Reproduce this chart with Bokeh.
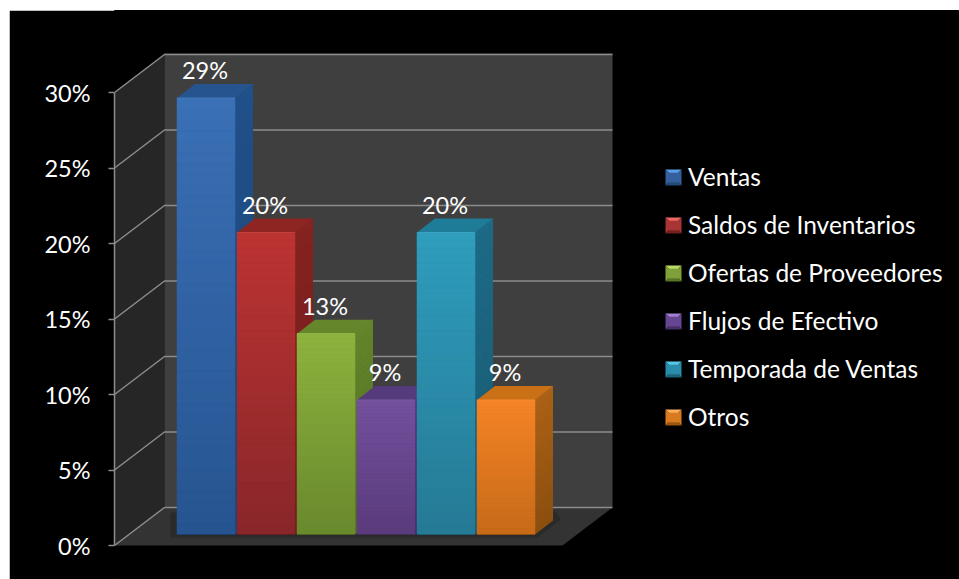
from bokeh.plotting import figure
from bokeh.models import (ColumnDataSource, Range1d, FixedTicker, PrintfTickFormatter,
                          Legend, LegendItem)
from bokeh.embed import file_html
from bokeh.resources import INLINE

categories = ["Ventas", "Saldos de Inventarios", "Ofertas de Proveedores",
              "Flujos de Efectivo", "Temporada de Ventas", "Otros"]
values = [28.9, 20.0, 13.3, 8.9, 20.0, 8.9]
ticks = [0, 5, 10, 15, 20, 25, 30]

# colours: front top, front bottom, side top, side bottom, cap, swatch top, swatch mid, swatch bottom
palette = [
    ("#3a70b6", "#265490", "#20508a", "#1c4474", "#25548f", "#5a9de8", "#34619e", "#264a78"),
    ("#bc3432", "#88262a", "#86221f", "#6e1c1a", "#8e2522", "#ee6663", "#a83533", "#74201e"),
    ("#8db33e", "#69882d", "#64852a", "#526c22", "#66862b", "#b7dc66", "#7f9f38", "#5a7426"),
    ("#74509d", "#5a3b7c", "#50377a", "#432e66", "#563b7c", "#a27fd0", "#664592", "#463068"),
    ("#2f9dbd", "#257a95", "#1d6a86", "#185a72", "#1f7c99", "#55c6e6", "#2a8cab", "#1c6278"),
    ("#f58426", "#c66a19", "#ad6215", "#8c4f0f", "#ca7016", "#ffae5e", "#d87a20", "#9c5612"),
]

PX_PER_UNIT = 15.1
PITCH = 60.0
W, H = 950, 569
LEFT, TOP = 9, 10


def X(px):
    return (px - 205.5) / PITCH


def Y(py):
    return (545 - py) / PX_PER_UNIT


p = figure(width=W, height=H, output_backend="svg", toolbar_location=None,
           x_range=Range1d(X(114), X(LEFT + W)), y_range=Range1d(Y(TOP + H), Y(TOP)),
           min_border_left=114 - LEFT, min_border_right=0, min_border_top=0, min_border_bottom=0,
           outline_line_color="#000000", outline_line_width=1,
           background_fill_color="#000000", border_fill_color="#000000",
           margin=(TOP, 0, 0, LEFT))
p.xaxis.visible = False
p.xgrid.visible = False
p.ygrid.visible = False

# walls
GRID = "#8c8c8c"
FONT = "Lato"
FS = "23.5px"
p.patch([X(114), X(164), X(164), X(114)], [Y(545), Y(507), Y(53), Y(92)],
        fill_color="#262626", line_color=None)
p.patch([X(164), X(612), X(612), X(164)], [Y(507), Y(507), Y(53), Y(53)],
        fill_color="#3f3f3f", line_color=None)
p.patch([X(114), X(562), X(612), X(164)], [Y(545), Y(545), Y(507), Y(507)],
        fill_color="#333333", line_color=None)
p.patch([X(170), X(537), X(560), X(556), X(170)], [Y(537), Y(537), Y(519), Y(512), Y(512)],
        fill_color="#2a2a2a", line_color=None)

back = Y(507)
p.multi_line([[X(114), X(164), X(612)] for t in ticks],
             [[t, t + back, t + back] for t in ticks],
             line_color=GRID, line_width=1.5)

BASE = Y(534)
DX, DY = 18 / PITCH, 14 / PX_PER_UNIT
HALF = 29 / PITCH
N = 40


def mix(a, b, t):
    ca = [int(a[i:i + 2], 16) for i in (1, 3, 5)]
    cb = [int(b[i:i + 2], 16) for i in (1, 3, 5)]
    return "#%02x%02x%02x" % tuple(round(u + (v - u) * t) for u, v in zip(ca, cb))


fronts = []
for i, v in enumerate(values):
    c = palette[i]
    top = v + BASE
    l, r = i - HALF, i + HALF
    # side face (gradient)
    for k in range(N):
        y0 = BASE + v * k / N
        y1 = BASE + v * (k + 1) / N + 0.03
        col = mix(c[3], c[2], (k + 0.5) / N)
        p.patch([r, r + DX, r + DX, r], [y0, y0 + DY, y1 + DY, y1], fill_color=col, line_color=None)
    # cap
    p.patch([l, r, r + DX, l + DX], [top, top, top + DY, top + DY], fill_color=c[4], line_color=None)
    # front face
    fr = p.vbar(x=[i], top=[top], bottom=[BASE], width=2 * HALF, fill_color=c[6], line_color=None)
    fronts.append(fr)
    tops = [BASE + v * (k + 1) / N for k in range(N)]
    bots = [BASE + v * k / N for k in range(N)]
    cols = [mix(c[1], c[0], (k + 0.5) / N) for k in range(N)]
    p.quad(left=[l] * N, right=[r] * N, top=tops, bottom=bots, fill_color=cols, line_color=cols, line_width=0.5)
    p.line([l, r], [top, top], line_color=mix(c[0], "#ffffff", 0.06), line_width=1)
    p.line([l, r], [BASE, BASE], line_color=mix(c[1], "#000000", 0.25), line_width=1)

# data labels
lab = ColumnDataSource(dict(x=[i - 1 / PITCH for i in range(len(values))],
                            y=[v + BASE for v in values],
                            t=["%d%%" % round(v) for v in values]))
p.text(x="x", y="y", text="t", source=lab, text_color="#ffffff", text_align="center",
       text_baseline="alphabetic", y_offset=-28, text_font_size=FS, text_font={"value": FONT})

# axis
ax = p.yaxis[0]
ax.ticker = FixedTicker(ticks=ticks)
ax.formatter = PrintfTickFormatter(format="%d%%")
ax.bounds = (0, 30)
ax.axis_line_color = GRID
ax.axis_line_width = 1.5
ax.major_tick_line_color = GRID
ax.major_tick_line_width = 1.5
ax.major_tick_out = 6
ax.major_tick_in = 0
ax.minor_tick_line_color = None
ax.major_label_standoff = 18
ax.major_label_text_color = "#ffffff"
ax.major_label_text_font = FONT
ax.major_label_text_font_size = FS

# legend
legend = Legend(items=[LegendItem(label=categories[i], renderers=[fronts[i]]) for i in range(len(categories))],
                location=(551, 148), orientation="vertical", padding=0, margin=0,
                glyph_width=16, glyph_height=12, label_standoff=7, spacing=19, label_height=20,
                background_fill_alpha=0, border_line_color=None,
                label_text_color="#ffffff", label_text_font=FONT, label_text_font_size="24.5px")
p.add_layout(legend, "center")

# bevel on the legend swatches
for i, c in enumerate(palette):
    x0, x1 = X(665), X(681)
    xm, ym = X(673), Y(177 + 48 * i)
    yt, yb = Y(169 + 48 * i), Y(185 + 48 * i)
    p.patch([x0, x1, xm], [yt, yt, ym], fill_color=c[5], line_color=None, level="overlay")
    p.patch([x0, xm, x0], [yt, ym, yb], fill_color=c[6], line_color=None, level="overlay")
    p.patch([x1, xm, x1], [yt, ym, yb], fill_color=c[6], line_color=None, level="overlay")
    p.patch([x0, x1, xm], [yb, yb, ym], fill_color=c[7], line_color=None, level="overlay")

open("out.html", "w").write(file_html(p, INLINE))
